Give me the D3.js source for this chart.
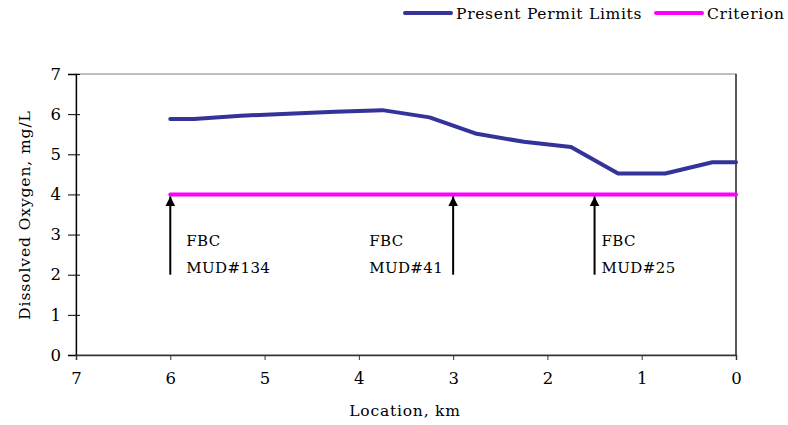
<!DOCTYPE html>
<html><head><meta charset="utf-8">
<script src="https://cdn.jsdelivr.net/npm/d3@7"></script>
<style>body{margin:0;background:#fff}svg{display:block}</style>
</head><body>
<svg id="c" width="788" height="425"></svg>
<script>
const locations = [6.0, 5.75, 5.25, 4.75, 4.25, 3.75, 3.25, 2.75, 2.25, 1.75, 1.25, 0.75, 0.25, 0];
const permitDO = [5.88, 5.88, 5.96, 6.01, 6.06, 6.10, 5.92, 5.51, 5.31, 5.18, 4.52, 4.52, 4.80, 4.80];
const criterionLoc = [6.0, 0];
const criterionDO = [4, 4];
const xTicks = [7, 6, 5, 4, 3, 2, 1, 0];
const yTicks = [0, 1, 2, 3, 4, 5, 6, 7];
const outfalls = [{loc: 6.0, name: ["FBC", "MUD#134"]}, {loc: 3.0, name: ["FBC", "MUD#41"]}, {loc: 1.5, name: ["FBC", "MUD#25"]}];
const arrowFrom = 2, arrowTo = 4;
const seriesNames = ["Present Permit Limits", "Criterion"];
const colors = ["#333399", "#FF00FF"];

const FONT = "DejaVu Serif";
const svg = d3.select("#c");
const L = 76, R = 736, T = 74, B = 355;
const x = d3.scaleLinear().domain([7, 0]).range([L, R]);
const y = d3.scaleLinear().domain([0, 7]).range([B, T]);

function txt(sel, size, ls) {
  return sel.attr("font-family", FONT).style("font-family", FONT).style("font-size", size + "px").style("letter-spacing", ls + "px").style("fill", "#000");
}

svg.append("rect").attr("x", L).attr("y", T).attr("width", R - L).attr("height", B - T)
  .attr("fill", "none").attr("stroke", "#808080").attr("stroke-width", 1);
svg.append("line").attr("x1", R).attr("x2", R).attr("y1", T).attr("y2", B).attr("stroke", "#222").attr("stroke-width", 1.3);

const yAxis = svg.append("g").attr("transform", `translate(${L},0)`)
  .call(d3.axisLeft(y).tickValues(yTicks).tickSize(8).tickPadding(7).tickFormat(d3.format("d")));
yAxis.attr("font-family", null);
yAxis.select(".domain").attr("stroke", "#000").attr("stroke-width", 1.3);
yAxis.selectAll(".tick line").attr("x1", 4).attr("stroke", "#000");
txt(yAxis.selectAll("text"), 16.5, 0);

const xAxis = svg.append("g").attr("transform", `translate(0,${B})`)
  .call(d3.axisBottom(x).tickValues(xTicks).tickSize(5).tickPadding(12).tickFormat(d3.format("d")));
xAxis.attr("font-family", null);
xAxis.select(".domain").attr("stroke", "#333").attr("stroke-width", 1.5);
xAxis.selectAll(".tick line").attr("stroke", "#333");
txt(xAxis.selectAll("text"), 16.5, 0);

txt(svg.append("text").attr("x", 405).attr("y", 416).attr("text-anchor", "middle"), 15.5, 0.8).text("Location, km");
txt(svg.append("text").attr("transform", "translate(30,215) rotate(-90)").attr("text-anchor", "middle"), 15.5, 0.9).text("Dissolved Oxygen, mg/L");

const line = d3.line().x(d => x(d[0])).y(d => y(d[1]));
svg.append("path").datum(criterionLoc.map((l, i) => [l, criterionDO[i]]))
  .attr("d", line).attr("fill", "none").attr("stroke", colors[1]).attr("stroke-width", 4).attr("stroke-linecap", "round");
svg.append("path").datum(locations.map((l, i) => [l, permitDO[i]]))
  .attr("d", line).attr("fill", "none").attr("stroke", colors[0]).attr("stroke-width", 4)
  .attr("stroke-linecap", "round").attr("stroke-linejoin", "round");

svg.append("defs").append("marker").attr("id", "ah").attr("viewBox", "0 0 10 10")
  .attr("refX", 5).attr("refY", 0).attr("markerWidth", 10).attr("markerHeight", 10).attr("markerUnits", "userSpaceOnUse")
  .attr("orient", "0").append("path").attr("d", "M0,10 L5,0 L10,10 Z").attr("fill", "#000");
const labelOffset = {6: 16, 3: -84, 1.5: 7};
outfalls.forEach(o => {
  svg.append("line").attr("x1", x(o.loc)).attr("x2", x(o.loc)).attr("y1", y(arrowFrom)).attr("y2", y(arrowTo) + 2)
    .attr("stroke", "#000").attr("stroke-width", 2).attr("marker-end", "url(#ah)");
  o.name.forEach((s, i) => {
    txt(svg.append("text").attr("x", x(o.loc) + labelOffset[o.loc]).attr("y", 246 + i * 27), 15, 0.4).text(s);
  });
});

const lg = [{x: 403, tx: 456}, {x: 654, tx: 707}];
seriesNames.forEach((n, i) => {
  svg.append("line").attr("x1", lg[i].x + 2).attr("x2", lg[i].x + 48).attr("y1", 13).attr("y2", 13)
    .attr("stroke", colors[i]).attr("stroke-width", 4).attr("stroke-linecap", "round");
  txt(svg.append("text").attr("x", lg[i].tx).attr("y", 19), 15.5, 0.7).text(n);
});
</script>
</body></html>
